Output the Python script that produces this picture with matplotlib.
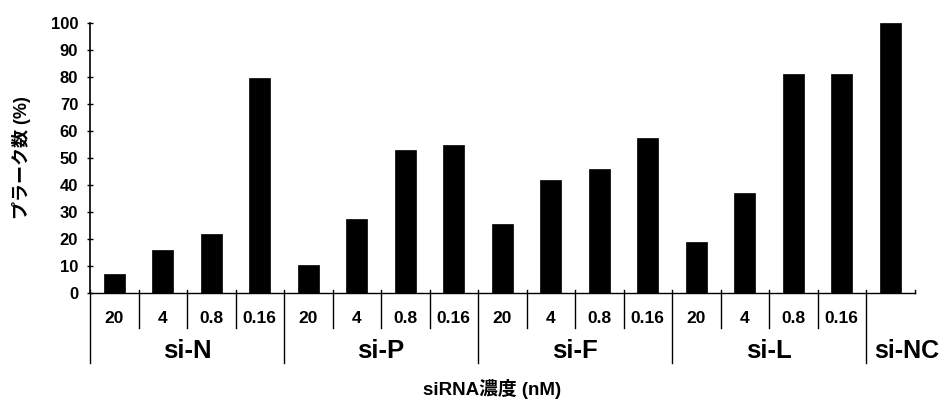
import matplotlib
matplotlib.use("Agg")
import matplotlib.pyplot as plt

plt.rcParams['font.family'] = ['Liberation Sans', 'Noto Sans CJK JP', 'DejaVu Sans']
plt.rcParams['font.weight'] = 'bold'

groups = ["si-N", "si-P", "si-F", "si-L", "si-NC"]
concentrations = ["20", "4", "0.8", "0.16"]
si_n = [7, 16, 22, 79.5]
si_p = [10.5, 27.5, 53, 55]
si_f = [25.5, 42, 46, 57.5]
si_l = [19, 37, 81, 81]
si_nc = [100]

series = [si_n, si_p, si_f, si_l, si_nc]
values = [v for s in series for v in s]
n = len(values)

fig = plt.figure(figsize=(9.48, 4.03), dpi=100)
ax = fig.add_axes([90 / 948, 110 / 403, 824.5 / 948, 270 / 403])

xs = [i + 0.5 for i in range(n)]
ax.bar(xs, values, width=0.43, color='black', edgecolor='black', linewidth=0.5)

ax.set_xlim(0, n)
ax.set_ylim(0, 100)
ax.set_yticks(range(0, 101, 10))
ax.tick_params(axis='y', direction='inout', length=5, width=1, labelsize=12, pad=6)
for lab in ax.get_yticklabels():
    lab.set_fontweight('bold')
ax.set_xticks([])
for side in ('top', 'right'):
    ax.spines[side].set_visible(False)
ax.spines['left'].set_linewidth(1.2)
ax.spines['bottom'].set_linewidth(1.0)

# category separators below the axis
line_kw = dict(color='black', linewidth=1.0, clip_on=False)
pos = 0
for gi, s in enumerate(series):
    # group boundary on the left of each group
    ax.plot([pos, pos], [1.2, -26], **line_kw)
    if len(s) > 1:
        for k, c in enumerate(concentrations):
            x0 = pos + k
            if k > 0:
                ax.plot([x0, x0], [1.2, -13], **line_kw)
            ax.text(x0 + 0.5, -9.5, c, ha='center', va='center', fontsize=12.5, fontweight='bold')
        ax.text(pos + len(s) / 2, -21.5, groups[gi], ha='center', va='center',
                fontsize=18.5, fontweight='bold')
    else:
        # the single control bar: label sits just right of its boundary line
        ax.text(pos + 0.16, -21.5, groups[gi], ha='left', va='center',
                fontsize=18, fontweight='bold', clip_on=False)
    pos += len(s)
# small tick at the far right end of the axis
ax.plot([n, n], [0, 1.2], **line_kw)

ax.text(n * 0.4875, -35.5, "siRNA濃度 (nM)", ha='center', va='center', fontsize=13.5, fontweight='bold')
ax.set_ylabel("プラーク数 (%)", fontsize=13, fontweight='bold', labelpad=14)

fig.savefig("out.png", dpi=100)
